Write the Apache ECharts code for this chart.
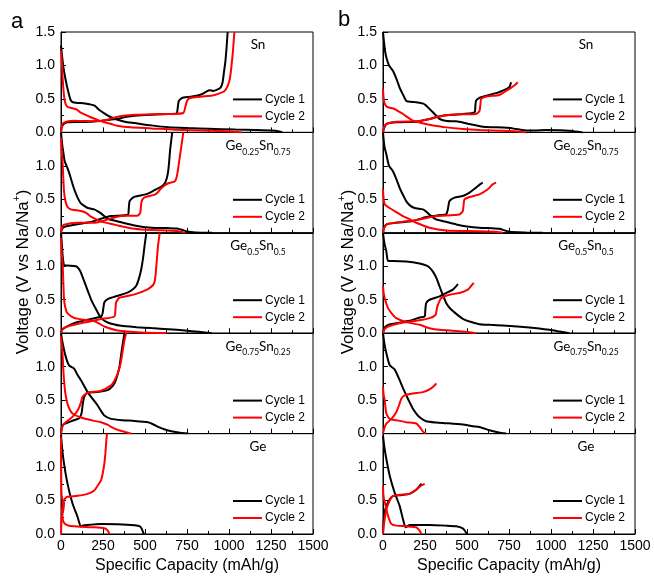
<!DOCTYPE html>
<html><head><meta charset="utf-8">
<script src="https://cdn.jsdelivr.net/npm/echarts@6/dist/echarts.min.js"></script>
<style>html,body{margin:0;padding:0;background:#fff}#c{width:654px;height:577px}</style>
</head><body><div id="c"></div>
<script>
// ---- tick labels / categories ----
const xTicks = [0, 250, 500, 750, 1000, 1250, 1500];
const yTicks = [0.0, 0.5, 1.0, 1.5];
const compositions = ['Sn', 'Ge0.25Sn0.75', 'Ge0.5Sn0.5', 'Ge0.75Sn0.25', 'Ge'];
const cycleNames = ['Cycle 1', 'Cycle 2'];
const panelLetters = ['a', 'b'];

// ---- column a : [capacity (mAh/g), voltage (V)] ----
const a1_c1_dis = [[0,1.3],[6,1.15],[14,0.98],[28,0.78],[44,0.6],[58,0.48],[70,0.45],[100,0.44],[134,0.435],[170,0.42],[200,0.4],[230,0.33],[260,0.28],[294,0.23],[338,0.19],[380,0.16],[438,0.14],[538,0.105],[638,0.078],[758,0.065],[878,0.055],[1038,0.042],[1160,0.035],[1250,0.028],[1300,0.015],[1318,0]];
const a1_c1_chg = [[0,0],[3,0.06],[8,0.1],[18,0.13],[38,0.15],[98,0.155],[170,0.16],[238,0.175],[290,0.19],[338,0.205],[390,0.235],[438,0.25],[538,0.265],[638,0.275],[688,0.28],[694,0.35],[700,0.46],[712,0.5],[730,0.52],[780,0.535],[838,0.57],[865,0.61],[885,0.63],[905,0.62],[930,0.64],[950,0.67],[962,0.75],[970,0.9],[978,1.05],[985,1.25],[992,1.5]];
const a1_c2_dis = [[0,1.22],[4,1.1],[10,0.8],[16,0.6],[24,0.45],[40,0.38],[70,0.36],[95,0.34],[114,0.3],[140,0.27],[174,0.23],[214,0.19],[254,0.155],[300,0.125],[334,0.1],[414,0.076],[538,0.06],[678,0.04],[878,0.025],[1000,0.015],[1078,0]];
const a1_c2_chg = [[0,0],[4,0.08],[10,0.13],[30,0.16],[78,0.175],[140,0.17],[198,0.165],[250,0.175],[290,0.2],[330,0.23],[370,0.25],[438,0.265],[540,0.27],[640,0.275],[728,0.29],[740,0.38],[750,0.47],[765,0.51],[800,0.525],[838,0.535],[900,0.55],[940,0.58],[970,0.61],[990,0.68],[1005,0.8],[1015,1.0],[1023,1.2],[1032,1.5]];

const a2_c1_dis = [[0,1.5],[8,1.3],[14,1.2],[22,1.07],[38,0.97],[48,0.9],[58,0.82],[72,0.7],[88,0.59],[104,0.5],[118,0.44],[140,0.4],[160,0.37],[198,0.35],[220,0.32],[238,0.29],[258,0.25],[278,0.21],[338,0.17],[438,0.11],[538,0.076],[638,0.07],[690,0.065],[720,0.045],[750,0.02],[800,0.005],[900,0]];
const a2_c1_chg = [[0,0],[4,0.05],[18,0.086],[78,0.12],[178,0.16],[238,0.21],[298,0.25],[398,0.27],[403,0.35],[408,0.47],[420,0.51],[440,0.54],[498,0.57],[530,0.6],[558,0.64],[598,0.69],[618,0.74],[630,0.82],[638,0.92],[645,1.1],[650,1.25],[662,1.5]];
const a2_c2_dis = [[0,1.42],[4,1.25],[10,1.02],[14,0.8],[18,0.62],[26,0.48],[38,0.39],[58,0.35],[78,0.34],[110,0.33],[138,0.31],[160,0.28],[178,0.24],[238,0.17],[338,0.11],[438,0.06],[538,0.04],[638,0.035],[700,0.025],[740,0]];
const a2_c2_chg = [[0,0],[6,0.08],[18,0.12],[98,0.15],[198,0.15],[240,0.17],[278,0.2],[318,0.23],[358,0.25],[458,0.26],[472,0.3],[478,0.45],[486,0.5],[498,0.53],[558,0.57],[578,0.61],[598,0.67],[638,0.74],[678,0.77],[690,0.85],[698,0.97],[708,1.15],[718,1.32],[728,1.5]];

const a3_c1_dis = [[0,1.5],[6,1.3],[10,1.15],[18,1.02],[38,1.01],[88,1.0],[104,0.97],[118,0.91],[133,0.81],[148,0.71],[163,0.61],[178,0.51],[193,0.43],[208,0.36],[238,0.23],[278,0.16],[358,0.11],[450,0.09],[538,0.076],[640,0.06],[738,0.04],[820,0.02],[898,0]];
const a3_c1_chg = [[0,0],[6,0.05],[18,0.076],[78,0.15],[158,0.2],[238,0.25],[248,0.3],[258,0.46],[278,0.51],[338,0.56],[398,0.61],[430,0.66],[448,0.71],[462,0.8],[478,0.96],[490,1.15],[498,1.32],[508,1.5]];
const a3_c2_dis = [[0,1.42],[4,1.2],[10,1.02],[14,0.75],[18,0.51],[26,0.38],[38,0.3],[78,0.23],[138,0.2],[198,0.18],[230,0.14],[258,0.1],[338,0.04],[478,0.01],[628,0]];
const a3_c2_chg = [[0,0],[10,0.06],[38,0.1],[138,0.16],[238,0.21],[318,0.25],[324,0.35],[328,0.46],[348,0.53],[438,0.58],[518,0.66],[548,0.72],[558,0.78],[564,0.9],[568,1.02],[574,1.2],[578,1.32],[588,1.5]];

const a4_c1_dis = [[0,1.5],[10,1.35],[28,1.15],[48,1.02],[78,0.97],[98,0.88],[118,0.8],[138,0.71],[158,0.62],[188,0.52],[218,0.42],[238,0.34],[258,0.27],[298,0.22],[368,0.2],[438,0.19],[518,0.17],[548,0.14],[578,0.1],[638,0.045],[700,0.015],[758,0]];
const a4_c1_chg = [[0,0],[6,0.1],[18,0.14],[78,0.2],[108,0.23],[122,0.3],[130,0.45],[138,0.55],[158,0.61],[218,0.62],[278,0.65],[300,0.69],[318,0.75],[333,0.85],[348,1.0],[358,1.18],[368,1.35],[378,1.5]];
const a4_c2_dis = [[0,1.45],[6,1.3],[10,1.15],[14,0.95],[18,0.8],[26,0.6],[38,0.45],[52,0.36],[68,0.3],[118,0.24],[198,0.19],[238,0.17],[280,0.13],[298,0.1],[338,0.055],[380,0.025],[418,0]];
const a4_c2_chg = [[0,0],[10,0.12],[28,0.17],[68,0.25],[100,0.35],[118,0.46],[128,0.55],[158,0.61],[238,0.64],[298,0.72],[320,0.8],[338,0.9],[355,1.05],[368,1.25],[378,1.4],[388,1.5]];

const a5_c1_dis = [[0,1.48],[8,1.25],[18,1.05],[38,0.76],[68,0.46],[98,0.26],[118,0.11],[128,0.125],[138,0.13],[238,0.15],[338,0.145],[438,0.13],[470,0.115],[480,0.08],[488,0.03],[494,0]];
const a5_c1_chg = [];
const a5_c2_dis = [[0,1.45],[1,1.0],[3,0.6],[10,0.5],[18,0.46],[14,0.36],[8,0.28],[12,0.2],[20,0.16],[40,0.13],[58,0.12],[118,0.11],[198,0.1],[258,0.085],[275,0.06],[282,0.035],[288,0]];
const a5_c2_chg = [[0,0],[2,0.15],[4,0.26],[8,0.4],[14,0.48],[24,0.53],[38,0.555],[98,0.57],[158,0.6],[198,0.65],[218,0.72],[238,0.8],[248,0.9],[258,1.05],[264,1.2],[270,1.4],[274,1.5]];

// ---- column b ----
const b1_c1_dis = [[0,1.5],[6,1.35],[12,1.22],[20,1.12],[36,1.0],[59,0.92],[80,0.8],[99,0.67],[120,0.56],[139,0.47],[170,0.455],[198,0.45],[240,0.43],[257,0.4],[277,0.35],[297,0.3],[317,0.25],[337,0.2],[380,0.17],[436,0.165],[480,0.145],[515,0.125],[594,0.085],[650,0.078],[713,0.075],[760,0.065],[792,0.05],[851,0.03],[900,0.028],[970,0.035],[1050,0.033],[1109,0.025],[1160,0.01],[1188,0]];
const b1_c1_chg = [[0,0],[6,0.06],[20,0.125],[79,0.15],[198,0.16],[240,0.18],[277,0.2],[320,0.23],[356,0.25],[420,0.265],[475,0.275],[545,0.3],[550,0.4],[554,0.475],[570,0.51],[584,0.525],[653,0.575],[690,0.6],[713,0.625],[740,0.655],[755,0.69],[762,0.75]];
const b1_c2_dis = [[0,0.65],[4,0.5],[10,0.43],[20,0.39],[30,0.375],[69,0.35],[95,0.31],[119,0.275],[150,0.22],[178,0.175],[230,0.14],[277,0.115],[376,0.075],[474,0.05],[574,0.035],[713,0.025],[800,0.015],[851,0]];
const b1_c2_chg = [[0,0],[6,0.08],[20,0.125],[79,0.16],[198,0.165],[240,0.18],[277,0.2],[320,0.23],[356,0.25],[454,0.27],[554,0.275],[574,0.32],[580,0.42],[584,0.5],[614,0.535],[693,0.56],[720,0.6],[752,0.65],[782,0.7],[802,0.75]];

const b2_c1_dis = [[0,1.5],[8,1.3],[20,1.17],[36,1.0],[59,0.92],[80,0.8],[99,0.67],[120,0.56],[139,0.47],[160,0.41],[188,0.37],[238,0.35],[260,0.31],[277,0.27],[317,0.2],[380,0.16],[436,0.125],[500,0.095],[574,0.075],[650,0.068],[693,0.06],[720,0.04],[752,0.015],[850,0.005],[950,0]];
const b2_c1_chg = [[0,0],[6,0.07],[20,0.125],[79,0.15],[178,0.175],[257,0.235],[337,0.265],[376,0.275],[386,0.35],[396,0.475],[426,0.525],[475,0.55],[515,0.6],[554,0.675],[584,0.735],[594,0.75]];
const b2_c2_dis = [[0,0.65],[4,0.5],[10,0.425],[30,0.385],[69,0.325],[119,0.25],[160,0.2],[198,0.15],[277,0.075],[376,0.035],[574,0.025],[660,0.015],[713,0]];
const b2_c2_chg = [[0,0],[8,0.08],[30,0.135],[119,0.165],[218,0.2],[317,0.25],[455,0.275],[475,0.325],[480,0.42],[485,0.5],[515,0.535],[574,0.575],[624,0.65],[653,0.725],[673,0.75]];

const b3_c1_dis = [[0,1.5],[8,1.35],[20,1.22],[30,1.08],[59,1.08],[139,1.07],[218,1.04],[260,1.01],[277,0.98],[297,0.92],[317,0.83],[332,0.73],[347,0.63],[362,0.54],[376,0.45],[396,0.38],[416,0.33],[445,0.27],[475,0.215],[520,0.17],[574,0.135],[640,0.125],[713,0.115],[800,0.1],[871,0.085],[930,0.07],[990,0.05],[1050,0.025],[1109,0]];
const b3_c1_chg = [[0,0],[8,0.08],[30,0.125],[79,0.15],[158,0.185],[218,0.235],[248,0.25],[252,0.35],[257,0.45],[277,0.5],[337,0.55],[376,0.6],[416,0.65],[435,0.7],[446,0.735]];
const b3_c2_dis = [[0,0.7],[4,0.6],[10,0.525],[20,0.44],[30,0.375],[50,0.3],[79,0.225],[139,0.165],[218,0.125],[277,0.075],[337,0.05],[475,0.025],[554,0]];
const b3_c2_chg = [[0,0],[10,0.06],[30,0.1],[99,0.15],[198,0.185],[277,0.225],[313,0.275],[320,0.36],[327,0.425],[347,0.525],[396,0.575],[455,0.6],[505,0.65],[531,0.725],[541,0.75]];

const b4_c1_dis = [[0,1.5],[8,1.35],[20,1.2],[40,1.02],[69,0.96],[99,0.8],[119,0.68],[139,0.57],[158,0.47],[178,0.37],[198,0.3],[218,0.245],[257,0.185],[316,0.165],[376,0.155],[475,0.135],[535,0.11],[574,0.1],[634,0.05],[690,0.015],[733,0]];
const b4_c1_chg = [];
const b4_c2_dis = [[0,0.7],[4,0.58],[10,0.5],[20,0.3],[40,0.22],[79,0.2],[139,0.17],[198,0.15],[218,0.1],[238,0.03],[255,0]];
const b4_c2_chg = [[0,0],[8,0.08],[20,0.15],[50,0.22],[79,0.32],[95,0.42],[109,0.52],[129,0.57],[178,0.6],[238,0.62],[277,0.66],[307,0.72],[317,0.75]];

const b5_c1_dis = [[0,1.47],[8,1.3],[20,1.12],[40,0.87],[69,0.62],[99,0.42],[119,0.22],[135,0.1],[158,0.135],[277,0.135],[376,0.125],[436,0.115],[475,0.085],[490,0.04],[499,0]];
const b5_c1_chg = [[0,0],[3,0.15],[8,0.3],[20,0.42],[40,0.52],[59,0.565],[99,0.58],[158,0.6],[198,0.66],[218,0.72],[230,0.75]];
const b5_c2_dis = [[0,0.72],[2,0.6],[6,0.52],[16,0.42],[30,0.27],[50,0.15],[79,0.125],[139,0.115],[198,0.1],[218,0.05],[228,0]];
const b5_c2_chg = [[0,0],[4,0.12],[10,0.22],[20,0.37],[40,0.5],[59,0.565],[99,0.585],[158,0.6],[198,0.665],[228,0.725],[248,0.75]];

const panelData = [
  [[a1_c1_dis,a1_c1_chg,a1_c2_dis,a1_c2_chg],[a2_c1_dis,a2_c1_chg,a2_c2_dis,a2_c2_chg],[a3_c1_dis,a3_c1_chg,a3_c2_dis,a3_c2_chg],[a4_c1_dis,a4_c1_chg,a4_c2_dis,a4_c2_chg],[a5_c1_dis,a5_c1_chg,a5_c2_dis,a5_c2_chg]],
  [[b1_c1_dis,b1_c1_chg,b1_c2_dis,b1_c2_chg],[b2_c1_dis,b2_c1_chg,b2_c2_dis,b2_c2_chg],[b3_c1_dis,b3_c1_chg,b3_c2_dis,b3_c2_chg],[b4_c1_dis,b4_c1_chg,b4_c2_dis,b4_c2_chg],[b5_c1_dis,b5_c1_chg,b5_c2_dis,b5_c2_chg]]
];

// ---- layout ----
const FONT = 'Liberation Sans, Arial, sans-serif';
const LABEL_FONT = 'Lato, Open Sans, sans-serif';
const colLeft = [61, 383];
const colWidth = [252, 252];
const top0 = 32, rowH = 100.4;
const colors = ['#000000', '#ff0000'];
const labelCx = [258, 586];
const legendLeft = [233, 553];
const yNameX = [22, 347];
const yNameY = 272;

function compRich(s) {
  // turn 'Ge0.25Sn0.75' into rich text with subscripts
  return s.replace(/([A-Za-z]+)([0-9.]+)?/g, (m, el, num) => '{m|' + el + '}' + (num ? '{s|' + num + '}' : ''));
}

const grids = [], xAxes = [], yAxes = [], series = [], legends = [], graphics = [];
let gi = 0;
for (let c = 0; c < 2; c++) {
  for (let r = 0; r < 5; r++) {
    const top = top0 + r * rowH;
    grids.push({left: colLeft[c], top: top, width: colWidth[c], height: rowH, show: true, borderColor: '#000', borderWidth: 1, backgroundColor: 'transparent'});
    const bottomRow = r === 4;
    xAxes.push({
      type: 'value', gridIndex: gi, min: xTicks[0], max: xTicks[xTicks.length - 1], interval: xTicks[1] - xTicks[0],
      axisLine: {show: true, onZero: false, lineStyle: {color: '#000', width: 1}},
      axisTick: {show: true, inside: true, length: 5, lineStyle: {color: '#000'}},
      minorTick: {show: true, splitNumber: 2, length: 3, lineStyle: {color: '#000'}},
      splitLine: {show: false}, minorSplitLine: {show: false},
      axisLabel: {show: bottomRow, color: '#000', fontSize: 14, fontFamily: FONT, margin: 5, formatter: v => String(v)},
      name: bottomRow ? 'Specific Capacity (mAh/g)' : '', nameLocation: 'middle', nameGap: 24,
      nameTextStyle: {color: '#000', fontSize: 16, fontFamily: FONT}
    });
    yAxes.push({
      type: 'value', gridIndex: gi, min: yTicks[0], max: yTicks[yTicks.length - 1], interval: yTicks[1] - yTicks[0],
      axisLine: {show: true, lineStyle: {color: '#000', width: 1}},
      axisTick: {show: true, inside: true, length: 5, lineStyle: {color: '#000'}},
      minorTick: {show: true, splitNumber: 2, length: 3, lineStyle: {color: '#000'}},
      splitLine: {show: false}, minorSplitLine: {show: false},
      axisLabel: {color: '#000', fontSize: 14, fontFamily: FONT, margin: 6, showMaxLabel: r === 0,
        formatter: v => (r !== 0 && v >= 1.5) ? '' : v.toFixed(1)}
    });
    const d = panelData[c][r];
    [0, 1, 2, 3].forEach(k => {
      const cyc = k < 2 ? 0 : 1;
      if (!d[k].length) return;
      series.push({
        type: 'line', name: cycleNames[cyc], xAxisIndex: gi, yAxisIndex: gi, data: d[k],
        showSymbol: false, symbol: 'none', smooth: 0.2, clip: true,
        lineStyle: {color: colors[cyc], width: 2}, itemStyle: {color: colors[cyc]},
        emphasis: {disabled: true}, z: 2 + cyc
      });
    });
    legends.push({
      data: cycleNames, orient: 'vertical', left: legendLeft[c], top: top + rowH - 40,
      icon: 'rect', itemWidth: 29, itemHeight: 2, itemGap: 3, selectedMode: false, padding: 0,
      textStyle: {color: '#000', fontSize: 12, fontFamily: FONT, lineHeight: 14, padding: [0, 0, 0, -2]}
    });
    graphics.push({
      type: 'text', x: labelCx[c], y: top + 15,
      style: {text: compRich(compositions[r]), align: 'center', verticalAlign: 'middle', fill: '#000',
        font: '13px ' + LABEL_FONT,
        rich: {
          m: {fontSize: 13.5, fontFamily: LABEL_FONT, fill: '#000', lineHeight: 18, verticalAlign: 'top'},
          s: {fontSize: 8.5, fontFamily: LABEL_FONT, fill: '#000', lineHeight: 10, verticalAlign: 'bottom'}
        }}
    });
    gi++;
  }
  // y-axis title for the column
  graphics.push({
    type: 'text', x: yNameX[c], y: yNameY, rotation: Math.PI / 2,
    style: {text: '{n|Voltage (V vs Na/Na}{sup|+}{n|)}', align: 'center', verticalAlign: 'middle', fill: '#000',
      font: '17px ' + FONT,
      rich: {
        n: {fontSize: 17, fontFamily: FONT, fill: '#000', lineHeight: 20, verticalAlign: 'bottom'},
        sup: {fontSize: 10, fontFamily: FONT, fill: '#000', lineHeight: 20, verticalAlign: 'top'}
      }}
  });
}
graphics.push({type: 'text', x: 17, y: 22, style: {text: panelLetters[0], align: 'center', verticalAlign: 'middle', fill: '#000', font: '22px Liberation Sans, Arial, sans-serif'}});
graphics.push({type: 'text', x: 344, y: 20, style: {text: panelLetters[1], align: 'center', verticalAlign: 'middle', fill: '#000', font: '22px Liberation Sans, Arial, sans-serif'}});

const chart = echarts.init(document.getElementById('c'), null, {renderer: 'canvas'});
chart.setOption({
  backgroundColor: '#fff', animation: false,
  grid: grids, xAxis: xAxes, yAxis: yAxes, series: series, legend: legends, graphic: graphics
});
</script>
</body></html>
